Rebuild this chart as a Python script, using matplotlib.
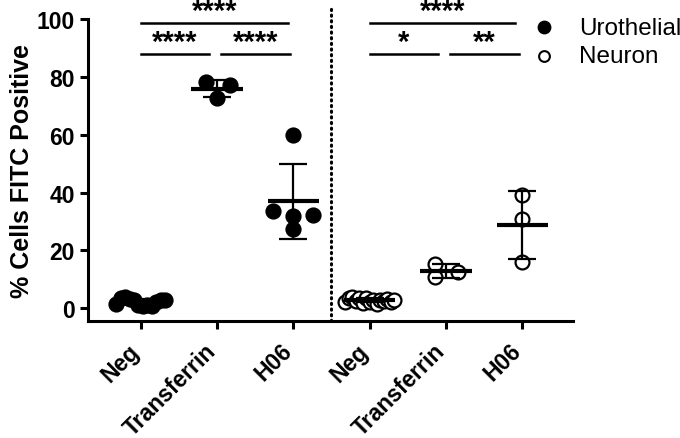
import numpy as np
import matplotlib.pyplot as plt

plt.rcParams['font.family'] = 'Liberation Sans'

# groups on the x axis
groups = ['Neg', 'Transferrin', 'H06', 'Neg', 'Transferrin', 'H06']

# % cells FITC positive
uro_neg = [1.5, 3.5, 3.8, 3.2, 3.0, 1.0, 0.8, 1.2, 0.9, 2.0, 2.8, 3.0]
uro_tf = [78.1, 72.6, 77.2]
uro_h06 = [33.7, 27.4, 59.9, 31.8, 32.3]
neu_neg = [2.0, 3.5, 3.8, 2.5, 3.6, 1.8, 3.4, 2.2, 3.0, 1.6, 2.8, 2.4, 3.2, 2.0, 3.0]
neu_tf = [15.3, 10.7, 12.7]
neu_h06 = [39.2, 30.9, 16.1]

# horizontal spread of the points inside each column
spread = [
    np.linspace(-0.32, 0.32, len(uro_neg)),
    [-0.15, 0.0, 0.17],
    [-0.26, 0.0, 0.0, 0.0, 0.26],
    np.linspace(-0.32, 0.32, len(neu_neg)),
    [-0.14, -0.14, 0.16],
    [0.0, 0.0, 0.0],
]

data = [uro_neg, uro_tf, uro_h06, neu_neg, neu_tf, neu_h06]
filled = [True, True, True, False, False, False]

fig = plt.figure(figsize=(6.8, 4.39), dpi=100)
ax = fig.add_axes([0.1294, 0.2665, 0.7128, 0.6879])

for i, vals in enumerate(data):
    xs = i + np.asarray(spread[i])
    if filled[i]:
        ax.scatter(xs, vals, s=110, c='black', edgecolors='black', linewidths=1.2, zorder=3, clip_on=False)
    else:
        ax.scatter(xs, vals, s=100, facecolors='white', edgecolors='black', linewidths=1.6, zorder=3, clip_on=False)
    m = np.mean(vals)
    sd = np.std(vals, ddof=1)
    ax.errorbar(i, m, yerr=sd, fmt='none', ecolor='black', elinewidth=1.6, capsize=10, capthick=1.6, zorder=4)
    ax.plot([i - 0.335, i + 0.335], [m, m], color='black', lw=3, zorder=4, solid_capstyle='butt')

# separator between the two cell types
ax.plot([2.5, 2.5], [-4.4, 104.6], color='black', lw=2.2, linestyle=(0, (0.4, 1.45)),
        dash_capstyle='round', clip_on=False)

# significance bars
sig = [
    (0, 1.93, 98.6, '****'), (0, 0.9, 87.9, '****'), (1.05, 1.95, 87.9, '****'),
    (3, 4.9, 98.6, '****'), (3, 3.9, 87.9, '*'), (4.05, 4.95, 87.9, '**'),
]
for x0, x1, y, lab in sig:
    ax.plot([x0, x1], [y, y], color='black', lw=1.8, clip_on=False)
    ax.text((x0 + x1) / 2, y - 0.6, lab, ha='center', va='bottom', fontsize=21,
            fontweight='bold', clip_on=False)

ax.scatter([], [], s=80, c='black', label='Urothelial')
ax.scatter([], [], s=60, facecolors='white', edgecolors='black', linewidths=1.5, label='Neuron')
ax.legend(loc='upper left', bbox_to_anchor=(0.89, 1.04), frameon=False, fontsize=17.5,
          handletextpad=0.85, labelspacing=0.28, borderaxespad=0, handlelength=1.2)

ax.set_xlim(-0.69, 5.66)
ax.set_ylim(-4.4, 100)
ax.set_yticks([0, 20, 40, 60, 80, 100])
ax.set_xticks(range(6))
ax.set_xticklabels(groups, rotation=45, ha='right', va='baseline', rotation_mode='anchor')
ax.set_ylabel('% Cells FITC Positive', fontsize=18, fontweight='bold', labelpad=2)

for side in ['top', 'right']:
    ax.spines[side].set_visible(False)
for side in ['left', 'bottom']:
    ax.spines[side].set_linewidth(2.2)
ax.spines['left'].set_bounds(-4.4, 100)
ax.tick_params(width=2.2, length=6, labelsize=16.5)
ax.tick_params(axis='x', labelsize=16.5, pad=16)
for t in ax.get_xticklabels() + ax.get_yticklabels():
    t.set_fontweight('bold')

fig.savefig('out.png', dpi=100)
